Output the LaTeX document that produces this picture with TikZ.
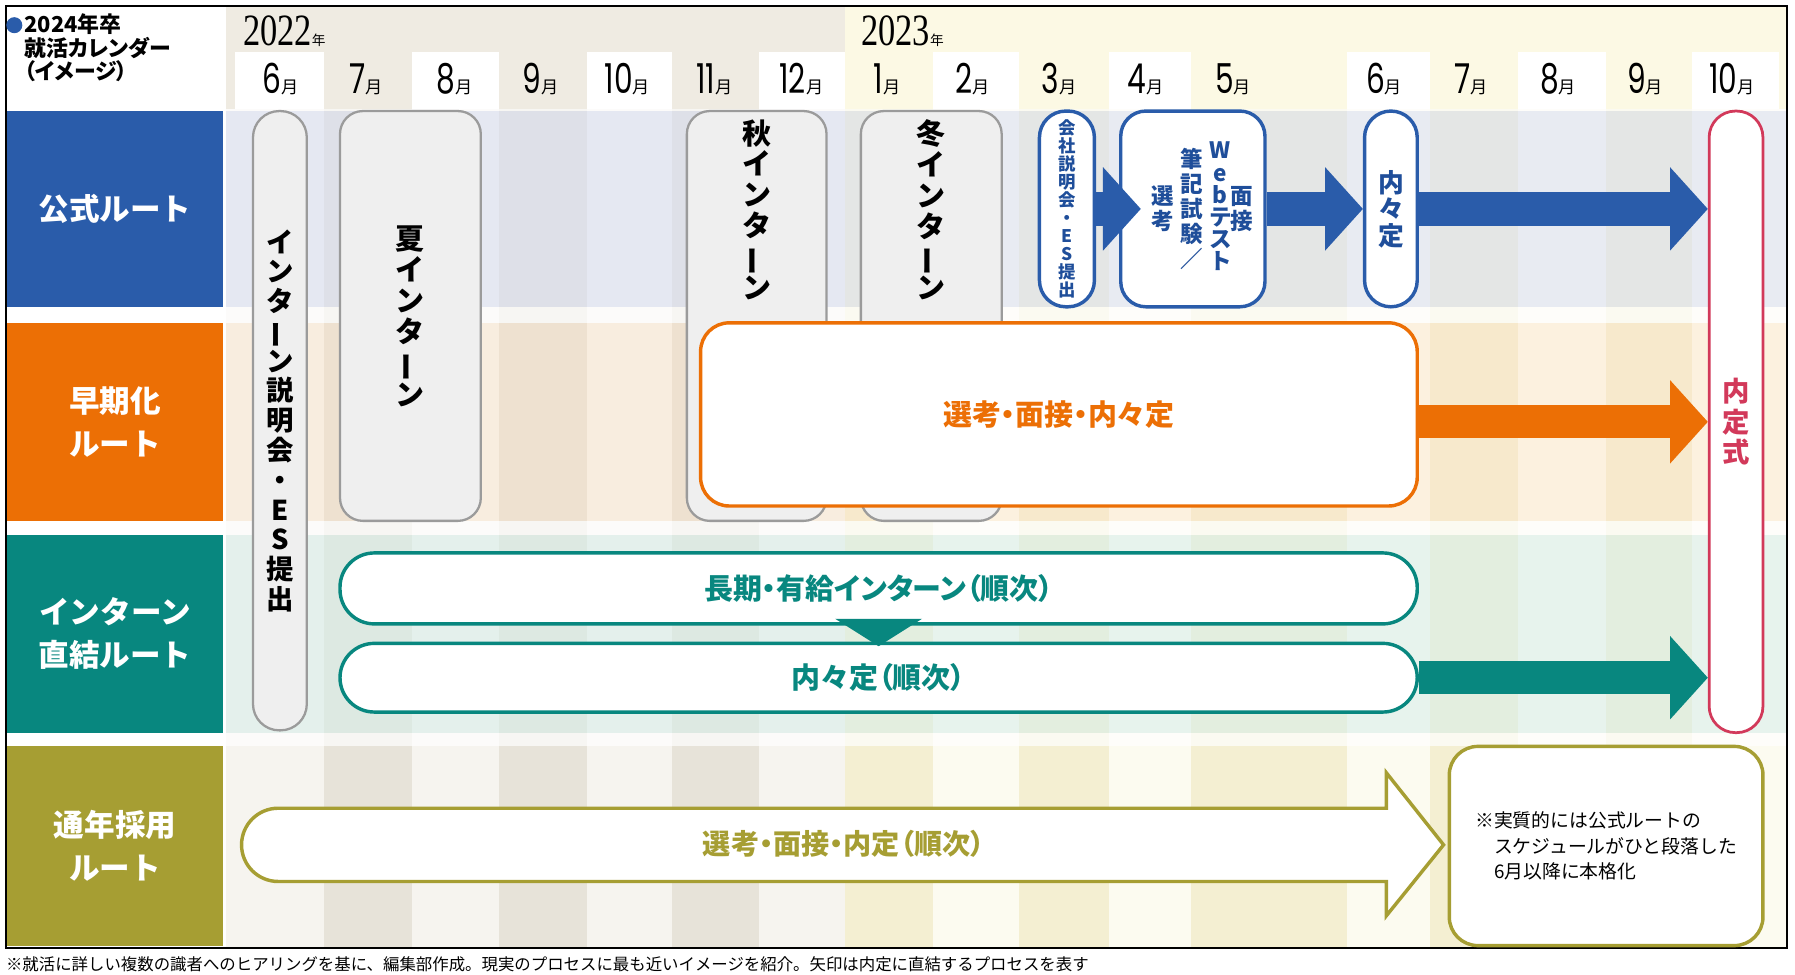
\documentclass[tikz,border=0pt]{standalone}
\usepackage{fontspec}
\setmainfont{Noto Sans CJK JP}
\newfontfamily\jp{Noto Sans CJK JP}
\newfontfamily\jpp{Noto Sans CJK JP}[RawFeature=+palt]
\newfontfamily\numfont{Poppins}[FakeStretch=0.72]
\newfontfamily\yearfont{Liberation Serif}[FakeStretch=0.77]
\usetikzlibrary{positioning,arrows.meta}

\definecolor{kBlue}{HTML}{2A5CAA}
\definecolor{kBlueText}{HTML}{1F4E9A}
\definecolor{kOrange}{HTML}{EC6F05}
\definecolor{kTeal}{HTML}{08877F}
\definecolor{kOlive}{HTML}{A69E33}
\definecolor{kRed}{HTML}{D2395A}
\definecolor{kGrayLine}{HTML}{9B9B9B}
\definecolor{kGrayFill}{HTML}{EFEFEF}
\definecolor{colLightA}{HTML}{F6F4EF}
\definecolor{colDarkA}{HTML}{E7E3D9}
\definecolor{colLightB}{HTML}{FCFBF0}
\definecolor{colDarkB}{HTML}{F4EFD2}
\definecolor{hdrA}{HTML}{EFEBE2}
\definecolor{hdrB}{HTML}{FCF9E4}
\definecolor{tintBlue}{HTML}{D8DFF5}
\definecolor{tintOrange}{HTML}{FDE0C2}
\definecolor{tintTeal}{HTML}{D6EEEB}

\newcommand\upx{0.25mm}
\newcommand\tatebar{\rotatebox[origin=c]{90}{ー}}

\tikzset{
  route/.style={rectangle, minimum width=189*\upx, inner sep=0, text=white,
    align=center, font=\jp\bfseries\fontsize{19}{27}\selectfont},
  vtext/.style={align=center, inner sep=0, font=\jp\bfseries\fontsize{17}{18.5}\selectfont},
  grayBox/.style={vtext, draw=kGrayLine, fill=kGrayFill, line width=0.5mm},
  blueBox/.style={draw=kBlue, fill=white, line width=0.75mm, inner sep=0, text=kBlueText},
  orangeBox/.style={draw=kOrange, fill=white, line width=0.75mm, rounded corners=25*\upx,
    text=kOrange, font=\jpp\bfseries\fontsize{18}{19}\selectfont},
  tealBox/.style={draw=kTeal, fill=white, line width=0.75mm, rounded corners=30*\upx,
    text=kTeal, font=\jpp\bfseries\fontsize{18}{19}\selectfont},
  oliveBox/.style={draw=kOlive, fill=white, line width=0.75mm, rounded corners=25*\upx},
  redBox/.style={vtext, draw=kRed, fill=white, line width=0.6mm, text=kRed,
    font=\jp\bfseries\fontsize{17}{19}\selectfont},
  month/.style={anchor=base, inner sep=0, font=\numfont\fontsize{25.6}{28}\selectfont},
  year/.style={anchor=base west, inner sep=0, font=\yearfont\fontsize{27.8}{30}\selectfont},
  fatArrow/.style={line width=7.25mm, -{Triangle[length=8.25mm, width=18.25mm, line width=0pt]}},
}

\begin{document}
\begin{tikzpicture}[x=0.25mm,y=-0.25mm]
  \fill[white] (0,0) rectangle (1568,851);
  \useasboundingbox (0,0) rectangle (1568,851);

  % header bands
  \fill[hdrA] (197,5) rectangle (738,95);
  \fill[hdrB] (738,5) rectangle (1561,95);
  \foreach \xa/\xb in {205/283,360/436,513/587,663/738,815/890,969/1040,1177/1249,1326/1403,1478/1554}
    \fill[white] (\xa,45) rectangle (\xb,95);

  % month columns
  \foreach \xa/\xb/\c in {197/283/colLightA,283/360/colDarkA,360/436/colLightA,436/513/colDarkA,
      513/587/colLightA,587/663/colDarkA,663/738/colLightA,738/815/colDarkB,815/890/colLightB,
      890/969/colDarkB,969/1040/colLightB,1040/1177/colDarkB,1177/1249/colLightB,
      1249/1326/colDarkB,1326/1403/colLightB,1403/1478/colDarkB,1478/1561/colLightB}
    \fill[\c] (\xa,95) rectangle (\xb,828);

  % row tints
  \fill[tintBlue, opacity=0.55] (197,97) rectangle (1561,268);
  \fill[tintOrange, opacity=0.35] (197,282) rectangle (1561,455);
  \fill[tintTeal, opacity=0.55] (197,467) rectangle (1561,640);
  \foreach \ya/\yb in {95/97,268/282,455/467,640/652}
    \fill[white, opacity=0.7] (197,\ya) rectangle (1561,\yb);

  % frame
  \draw[line width=0.35mm] (5,5) rectangle (1561,828);

  % title
  \fill[kBlue] (12.5,22) circle (7);
  \node[anchor=north west, inner sep=0, align=left,
    font=\jpp\bfseries\fontsize{13.6}{14.4}\selectfont] (title) at (21,12)
    {2024年卒\\就活カレンダー\\（イメージ）};

  % years and months
  \node[year] (yr2022) at (212,40) {2022{\jp\fontsize{8.5}{10}\selectfont 年}};
  \node[year] (yr2023) at (752,40) {2023{\jp\fontsize{8.5}{10}\selectfont 年}};
  \foreach \m/\cx in {6/245,7/320,8/397,9/472,10/548,11/624,12/700,1/775,2/850,
      3/925,4/1001,5/1077,6/1209,7/1285,8/1361,9/1437,10/1513}
    \node[month] (mon-\cx) at (\cx,82) {\m{\jp\fontsize{10.7}{12}\selectfont 月}};

  % routes
  \node[route, fill=kBlue, minimum height=171*\upx] (rOfficial) at (100.5,182.5) {公式ルート};
  \node[route, fill=kOrange, minimum height=173*\upx] (rEarly) at (100.5,368.5) {早期化\\ルート};
  \node[route, fill=kTeal, minimum height=173*\upx] (rIntern) at (100.5,553.5) {インターン\\直結ルート};
  \node[route, fill=kOlive, minimum height=174*\upx] (rYear) at (100.5,739) {通年採用\\ルート};

  % internships
  \node[grayBox, minimum width=47*\upx, minimum height=541*\upx, rounded corners=23*\upx]
    (gSetsumei) at (244.5,367.5) {イ\\ン\\タ\\\tatebar\\ン\\説\\明\\会\\・\\E\\S\\提\\出};
  \node[grayBox, minimum width=123*\upx, minimum height=358*\upx, rounded corners=20*\upx,
    font=\jp\bfseries\fontsize{18}{19.4}\selectfont] (gSummer) at (358.5,276) {夏\\イ\\ン\\タ\\\tatebar\\ン};
  \node[grayBox, minimum width=122*\upx, minimum height=358*\upx, rounded corners=20*\upx]
    (gAutumn) at (661,276) {};
  \node[vtext, below=2mm of gAutumn.north, font=\jp\bfseries\fontsize{18}{19.2}\selectfont]
    (tAutumn) {秋\\イ\\ン\\タ\\\tatebar\\ン};
  \node[grayBox, minimum width=123*\upx, minimum height=358*\upx, rounded corners=20*\upx]
    (gWinter) at (813.5,276) {};
  \node[vtext, below=2mm of gWinter.north, font=\jp\bfseries\fontsize{18}{19.2}\selectfont]
    (tWinter) {冬\\イ\\ン\\タ\\\tatebar\\ン};

  % official route
  \node[blueBox, vtext, text=kBlueText, minimum width=48*\upx, minimum height=171*\upx,
    rounded corners=23*\upx, font=\jp\bfseries\fontsize{10.8}{11.2}\selectfont]
    (bKaisha) at (932,182.5) {会\\社\\説\\明\\会\\・\\E\\S\\提\\出};
  \node[blueBox, minimum width=126*\upx, minimum height=171*\upx, rounded corners=22*\upx]
    (bSenko) at (1042,182.5) {};
  \node[vtext, text=kBlueText, font=\jp\bfseries\fontsize{14}{15.5}\selectfont]
    (sA) at ([xshift=-6.5mm]bSenko.center) {選\\考};
  \node[vtext, text=kBlueText, font=\jp\bfseries\fontsize{14}{15.5}\selectfont]
    (sB) at ([xshift=-0.25mm]bSenko.center) {筆\\記\\試\\験\\／};
  \node[vtext, text=kBlueText, font=\jp\bfseries\fontsize{14}{13.8}\selectfont]
    (sC) at ([xshift=6mm, yshift=0.5mm]bSenko.center) {W\\e\\b\\テ\\ス\\ト};
  \node[vtext, text=kBlueText, font=\jp\bfseries\fontsize{14}{15.5}\selectfont]
    (sD) at ([xshift=10.75mm]bSenko.center) {面\\接};
  \node[blueBox, vtext, text=kBlueText, minimum width=46*\upx, minimum height=171*\upx,
    rounded corners=23*\upx, font=\jp\bfseries\fontsize{16}{16.5}\selectfont]
    (bNainai) at (1215,182.5) {内\\々\\定};

  % ceremony
  \node[redBox, minimum width=47*\upx, minimum height=543*\upx, rounded corners=23*\upx]
    (rShiki) at (1516.5,368.5) {内\\定\\式};

  % early route
  \node[orangeBox, minimum width=626*\upx, minimum height=160*\upx] (oSenko) at (925,362) {選考・面接・内々定};

  % intern route
  \node[tealBox, minimum width=941*\upx, minimum height=62*\upx] (tLong) at (767.5,514)
    {長期・有給インターン（順次）};
  \node[tealBox, minimum width=941*\upx, minimum height=60*\upx] (tNainai) at (767.5,592)
    {内々定（順次）};
  \fill[kTeal] ([xshift=-9.5mm, yshift=1.5mm]tLong.south) -- ([xshift=9.5mm, yshift=1.5mm]tLong.south)
    -- ([yshift=-1mm]tNainai.north) -- cycle;

  % all-year route
  \draw[kOlive, fill=white, line width=0.75mm] (243,706) -- (1211,706) -- (1211,675) -- (1261,738)
    -- (1211,800) -- (1211,770) -- (243,770) arc (90:270:32) -- cycle;
  \node[text=kOlive, font=\jpp\bfseries\fontsize{17.5}{19}\selectfont] (yText) at (737,737)
    {選考・面接・内定（順次）};
  \node[oliveBox, minimum width=274*\upx, minimum height=174*\upx, align=left,
    font=\jp\fontsize{11.7}{16}\selectfont] (yNote) at (1403,739)
    {※実質的には公式ルートの\\\hspace*{1em}スケジュールがひと段落した\\\hspace*{1em}6月以降に本格化};

  % arrows
  \draw[fatArrow, kBlue] (bKaisha.east) -- ([xshift=4.75mm]bSenko.west);
  \draw[fatArrow, kBlue] (bSenko.east) -- (bNainai.west);
  \draw[fatArrow, kBlue] (bNainai.east) -- (rShiki.west |- bNainai.east);
  \draw[fatArrow, kOrange] (oSenko.east |- rEarly.east) -- (rShiki.west |- rEarly.east);
  \draw[fatArrow, kTeal] (tNainai.east) -- (rShiki.west |- tNainai.east);

  % footnote
  \node[anchor=west, inner sep=0, font=\jp\fontsize{10.2}{12}\selectfont] (foot) at (5,842)
    {※就活に詳しい複数の識者へのヒアリングを基に、編集部作成。現実のプロセスに最も近いイメージを紹介。矢印は内定に直結するプロセスを表す};
\end{tikzpicture}
\end{document}
